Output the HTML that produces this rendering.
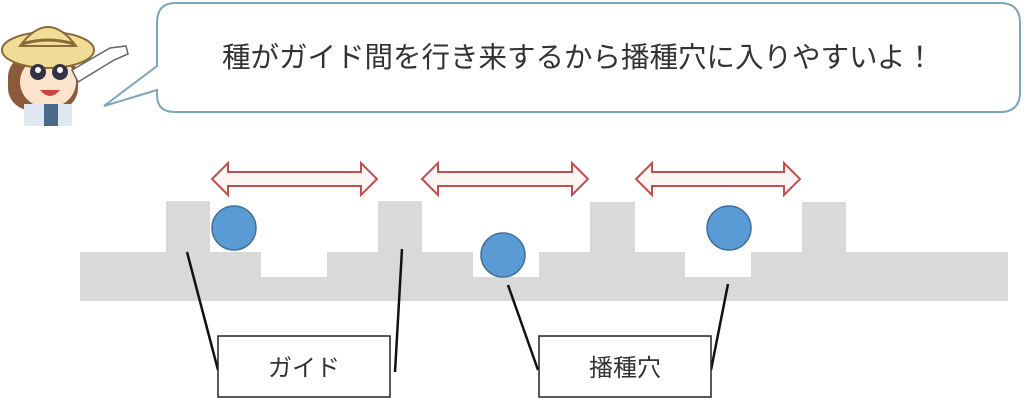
<!DOCTYPE html>
<html><head><meta charset="utf-8"><style>
body{margin:0;width:1024px;height:400px;background:#fff;overflow:hidden}
svg{display:block}
</style></head><body>
<svg width="1024" height="400" viewBox="0 0 1024 400" xmlns="http://www.w3.org/2000/svg">
<!-- bubble -->
<path d="M175,3 H1000 Q1020,3 1020,23 V92 Q1020,112 1000,112 H175 Q157,112 157,95 V90 L104,106 L157,66 V23 Q157,3 175,3 Z" fill="#fff" stroke="#7aa6bd" stroke-width="2"/>
<text x="578" y="67" font-family="Liberation Sans,'Noto Sans CJK JP',sans-serif" font-size="28.5" fill="#333" text-anchor="middle">種がガイド間を行き来するから播種穴に入りやすいよ！</text>
<!-- girl approximation -->
<rect x="8" y="55" width="70" height="55" rx="22" fill="#8a5a3a"/>
<ellipse cx="48" cy="82" rx="28" ry="26" fill="#fde2cc"/>
<ellipse cx="48" cy="50" rx="46" ry="18" fill="#f1dc98" stroke="#8a6a3a" stroke-width="2"/>
<path d="M20,46 Q48,8 76,46 Z" fill="#f1dc98" stroke="#8a6a3a" stroke-width="2"/>
<path d="M22,44 Q48,36 74,44" stroke="#8a6a3a" stroke-width="3" fill="none"/>
<circle cx="38" cy="72" r="8" fill="#334"/><circle cx="60" cy="72" r="8" fill="#334"/>
<circle cx="38" cy="70" r="3" fill="#fff"/><circle cx="60" cy="70" r="3" fill="#fff"/>
<path d="M40,90 Q50,102 60,90 Z" fill="#c44"/>
<rect x="24" y="104" width="48" height="22" fill="#dfe7f0"/>
<rect x="44" y="104" width="14" height="22" fill="#4b6a8a"/>
<path d="M72,70 L110,48 L126,46 L128,54 L114,60 L78,82 Z" fill="#fff" stroke="#666" stroke-width="1.5"/>
<!-- base -->
<g fill="#d9d9d9">
<rect x="80" y="252" width="928" height="49"/>
<rect x="166" y="201" width="44" height="51"/>
<rect x="378" y="201" width="44" height="51"/>
<rect x="590" y="202" width="45" height="50"/>
<rect x="802" y="202" width="44" height="50"/>
</g>
<g fill="#fff">
<rect x="261" y="252" width="66" height="25"/>
<rect x="473" y="252" width="66" height="25"/>
<rect x="685" y="252" width="66" height="25"/>
</g>
<!-- balls -->
<g fill="#5b9bd5" stroke="#41719c" stroke-width="1.5">
<circle cx="234" cy="228" r="22"/>
<circle cx="503" cy="255" r="22"/>
<circle cx="729" cy="228" r="22"/>
</g>
<!-- arrows -->
<g fill="#fdf5f3" stroke="#c0504d" stroke-width="2">
<path d="M212,179 L228,163 L228,172 L361,172 L361,163 L377,179 L361,195 L361,186 L228,186 L228,195 Z"/>
<path d="M422,179 L438,163 L438,172 L572,172 L572,163 L588,179 L572,195 L572,186 L438,186 L438,195 Z"/>
<path d="M636,179 L652,163 L652,172 L784,172 L784,163 L800,179 L784,195 L784,186 L652,186 L652,195 Z"/>
</g>
<!-- leader lines -->
<g stroke="#111" stroke-width="2.5" fill="none">
<line x1="187" y1="252" x2="218" y2="370"/>
<line x1="402" y1="249" x2="395" y2="372"/>
<line x1="508" y1="285" x2="538" y2="370"/>
<line x1="728" y1="284" x2="711" y2="370"/>
</g>
<!-- boxes -->
<rect x="218" y="336" width="172" height="61" fill="#fff" stroke="#222" stroke-width="1.5"/>
<rect x="539" y="336" width="172" height="61" fill="#fff" stroke="#222" stroke-width="1.5"/>
<text x="304" y="376" font-family="Liberation Sans,'Noto Sans CJK JP',sans-serif" font-size="24" fill="#333" text-anchor="middle">ガイド</text>
<text x="625" y="376" font-family="Liberation Sans,'Noto Sans CJK JP',sans-serif" font-size="24" fill="#333" text-anchor="middle">播種穴</text>
</svg>
</body></html>
